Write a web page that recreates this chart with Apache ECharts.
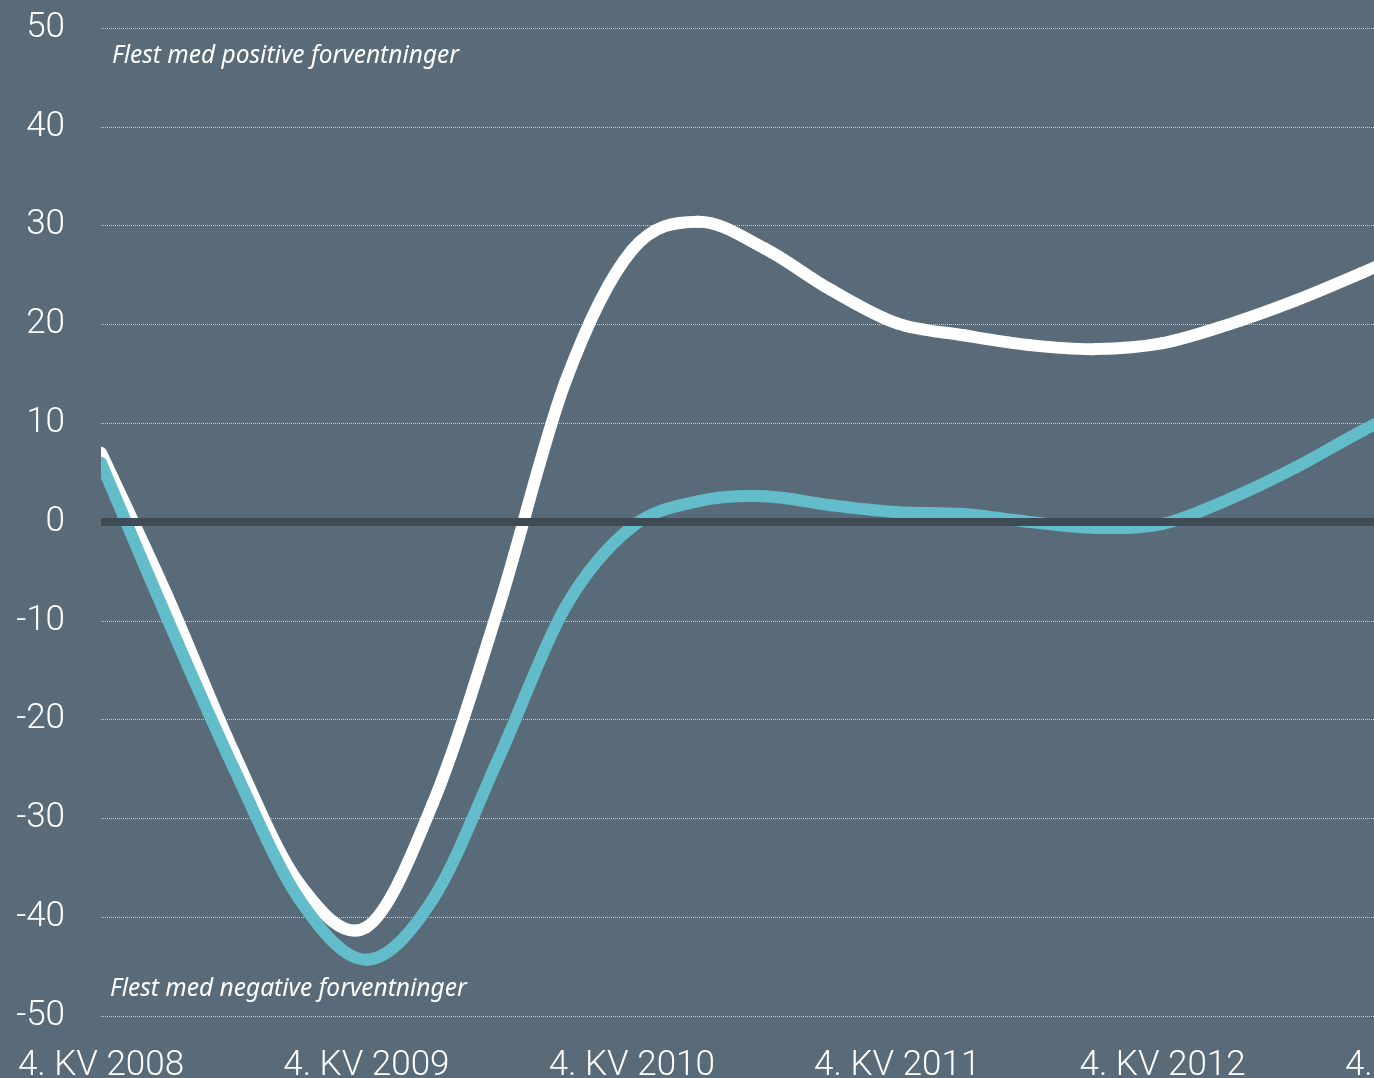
<!DOCTYPE html>
<html>
<head>
<meta charset="utf-8">
<style>
  html, body { margin: 0; padding: 0; background: #596b79; overflow: hidden; width: 1374px; height: 1078px; }
  #chart { width: 1428px; height: 1078px; }
</style>
<script src="https://cdn.jsdelivr.net/npm/echarts@6/dist/echarts.min.js"></script>
</head>
<body>
<div id="chart"></div>
<script>
// Quarter categories (4. KV 2008 .. 4. KV 2013)
const quarters = [
  '4. KV 2008', '1. KV 2009', '2. KV 2009', '3. KV 2009',
  '4. KV 2009', '1. KV 2010', '2. KV 2010', '3. KV 2010',
  '4. KV 2010', '1. KV 2011', '2. KV 2011', '3. KV 2011',
  '4. KV 2011', '1. KV 2012', '2. KV 2012', '3. KV 2012',
  '4. KV 2012', '1. KV 2013', '2. KV 2013', '3. KV 2013',
  '4. KV 2013'
];
// White series
const seriesWhite = [7, -7.5, -23.3, -36.7, -41, -28.5, -8.5, 14.2, 27.5, 30.4, 27.7, 23.5, 20.1, 18.9, 17.9, 17.5, 18.1, 20, 22.4, 25.2, 28.2];
// Teal series
const seriesTeal = [6, -9.8, -24.9, -38.3, -44.3, -38.2, -23.8, -8.6, -0.5, 2.1, 2.6, 1.7, 1.0, 0.8, 0, -0.6, -0.2, 2.3, 5.5, 9.2, 12.5];
// Y axis ticks
const yMin = -50, yMax = 50, yStep = 10;
const annotationTop = 'Flest med positive forventninger';
const annotationBottom = 'Flest med negative forventninger';

const WHITE = '#ffffff';
const TEAL = '#63bcc9';

// Smooth (Catmull-Rom) curve through the data, drawn with the axes' own scales
function splineSeries(values, color, z) {
  return {
    type: 'custom',
    coordinateSystem: 'cartesian2d',
    clip: true,
    z: z,
    silent: true,
    encode: { x: 0, y: 1 },
    data: values.map((v, i) => [i, v]),
    renderItem: function (params, api) {
      if (params.dataIndex !== 0) return null;
      const pts = values.map((v, i) => api.coord([i, v]));
      const n = pts.length;
      const children = [];
      for (let i = 0; i < n - 1; i++) {
        const p0 = pts[Math.max(i - 1, 0)];
        const p1 = pts[i];
        const p2 = pts[i + 1];
        const p3 = pts[Math.min(i + 2, n - 1)];
        children.push({
          type: 'bezierCurve',
          shape: {
            x1: p1[0], y1: p1[1],
            cpx1: p1[0] + (p2[0] - p0[0]) / 6,
            cpy1: p1[1] + (p2[1] - p0[1]) / 6,
            cpx2: p2[0] - (p3[0] - p1[0]) / 6,
            cpy2: p2[1] - (p3[1] - p1[1]) / 6,
            x2: p2[0], y2: p2[1]
          },
          style: { stroke: color, lineWidth: 12, fill: null, lineCap: 'round' }
        });
      }
      return { type: 'group', children: children };
    }
  };
}

const chart = echarts.init(document.getElementById('chart'), null, { renderer: 'canvas' });
const labelFont = 'Roboto';
chart.setOption({
  backgroundColor: '#596b79',
  animation: false,
  grid: { left: 101, right: 0, top: 28, bottom: 62, containLabel: false, outerBoundsMode: 'none' },
  xAxis: {
    type: 'category',
    data: quarters,
    boundaryGap: false,
    axisLine: { show: false },
    axisTick: { show: false },
    splitLine: { show: false },
    axisLabel: {
      interval: 3,
      color: '#ffffff',
      fontFamily: labelFont,
      fontWeight: 300,
      fontSize: 35,
      margin: 33,
      hideOverlap: false
    }
  },
  yAxis: {
    type: 'value',
    min: yMin, max: yMax, interval: yStep,
    axisLine: { show: false },
    axisTick: { show: false },
    axisLabel: {
      color: '#ffffff',
      fontFamily: labelFont,
      fontWeight: 300,
      fontSize: 35,
      margin: 36,
      padding: [6, 0, 0, 0]
    },
    splitLine: {
      show: true,
      lineStyle: { color: '#c3ccd3', width: 1, type: [1, 1] }
    }
  },
  series: [
    {
      type: 'line',
      data: [],
      z: 1,
      silent: true,
      markLine: {
        silent: true,
        symbol: 'none',
        label: { show: false },
        lineStyle: { color: '#3e4a54', width: 8, type: 'solid' },
        data: [{ yAxis: 0 }]
      }
    },
    splineSeries(seriesWhite, WHITE, 3),
    splineSeries(seriesTeal, TEAL, 4)
  ],
  graphic: [
    {
      type: 'text', left: 112, top: 44, z: 10,
      style: { text: annotationTop, fill: '#ffffff', font: 'italic 24.5px "Noto Sans"' }
    },
    {
      type: 'text', left: 110, top: 977, z: 10,
      style: { text: annotationBottom, fill: '#ffffff', font: 'italic 24.5px "Noto Sans"' }
    }
  ]
});
</script>
</body>
</html>
